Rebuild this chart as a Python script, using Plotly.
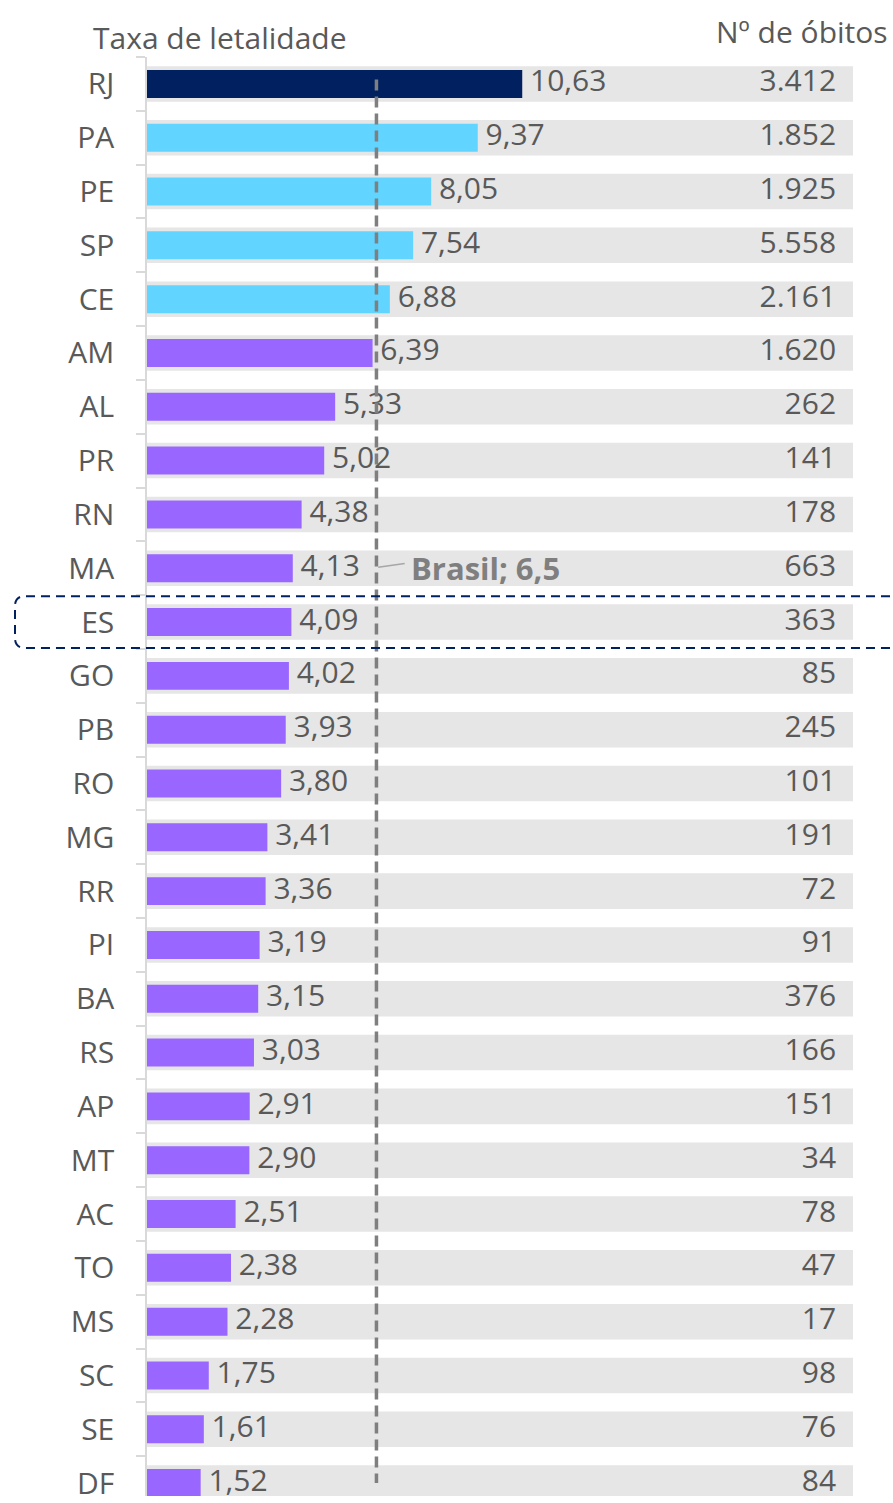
import plotly.graph_objects as go

estados = ["RJ", "PA", "PE", "SP", "CE", "AM", "AL", "PR", "RN", "MA", "ES", "GO", "PB", "RO",
           "MG", "RR", "PI", "BA", "RS", "AP", "MT", "AC", "TO", "MS", "SC", "SE", "DF"]
taxa = [10.63, 9.37, 8.05, 7.54, 6.88, 6.39, 5.33, 5.02, 4.38, 4.13, 4.09, 4.02, 3.93, 3.80,
        3.41, 3.36, 3.19, 3.15, 3.03, 2.91, 2.90, 2.51, 2.38, 2.28, 1.75, 1.61, 1.52]
obitos = [3412, 1852, 1925, 5558, 2161, 1620, 262, 141, 178, 663, 363, 85, 245, 101,
          191, 72, 91, 376, 166, 151, 34, 78, 47, 17, 98, 76, 84]
grupo = ["destaque"] + ["alto"] * 4 + ["demais"] * 22
brasil = 6.5
fundo_max = 20
estado_marcado = "ES"

cores = {"destaque": "#002060", "alto": "#61D5FF", "demais": "#9966FF"}
TXT = "#595959"
FONT = "Open Sans"
FS = 30

W, H = 893, 1503
ML, MR, MT, MB = 147, 40, 57, 0
PW, PH = W - ML - MR, H - MT - MB
n = len(estados)
yr = [26.24, -0.5]


def px_x(p):
    return (p - ML) / PW


def px_y(p):
    return 1 - (p - MT) / PH


def row_to_py(r):
    return MT + (r - yr[1]) / (yr[0] - yr[1]) * PH


def fmt_taxa(v):
    return f"{v:.2f}".replace(".", ",")


def fmt_int(v):
    return f"{v:,}".replace(",", ".")


fig = go.Figure()
fig.add_trace(go.Bar(y=estados, x=[fundo_max] * n, orientation="h", width=0.66,
                     marker=dict(color="#E6E6E6", line=dict(width=0)), hoverinfo="skip",
                     showlegend=False))
fig.add_trace(go.Bar(y=estados, x=taxa, orientation="h", width=0.52,
                     marker=dict(color=[cores[g] for g in grupo], line=dict(width=0)),
                     showlegend=False))
fig.add_trace(go.Scatter(y=estados, x=taxa, mode="text",
                         text=[" " + fmt_taxa(v) for v in taxa], textposition="middle right",
                         textfont=dict(family=FONT, size=FS, color=TXT), showlegend=False,
                         hoverinfo="skip"))
fig.add_trace(go.Scatter(y=estados, x=[19.52] * n, mode="text",
                         text=[fmt_int(v) for v in obitos], textposition="middle left",
                         textfont=dict(family=FONT, size=FS, color=TXT), showlegend=False,
                         hoverinfo="skip"))

# Brasil reference line
fig.add_shape(type="line", xref="x", yref="y", x0=brasil, x1=brasil, y0=-0.08, y1=n - 1,
              line=dict(color="#7F7F7F", width=3.5, dash="11px,6px"), layer="above")
ib = estados.index("MA")
fig.add_shape(type="line", xref="x", yref="y", x0=brasil + 0.05, x1=brasil + 0.8,
              y0=ib - 0.02, y1=ib - 0.09, line=dict(color="#A6A6A6", width=1.5))
fig.add_annotation(x=brasil + 0.93, y="MA", xref="x", yref="y", xanchor="left", yanchor="middle",
                   text="<b>Brasil; 6,5</b>", showarrow=False,
                   font=dict(family=FONT, size=31, color="#7F7F7F"))

# dashed highlight box around ES
ie = estados.index(estado_marcado)
yc = row_to_py(ie)
y0p, y1p = px_y(yc - 26), px_y(yc + 26)
x0p, x1p = px_x(15), px_x(905)
rx, ry = 10 / PW, 10 / PH
path = (f"M {x1p} {y0p} L {x0p + rx} {y0p} Q {x0p} {y0p} {x0p} {y0p - ry} "
        f"L {x0p} {y1p + ry} Q {x0p} {y1p} {x0p + rx} {y1p} L {x1p} {y1p}")
fig.add_shape(type="path", xref="paper", yref="paper", path=path,
              line=dict(color="#002060", width=2, dash="9px,6px"))

fig.add_annotation(x=px_x(91), y=px_y(37), xref="paper", yref="paper", xanchor="left",
                   yanchor="middle", text="Taxa de letalidade", showarrow=False,
                   font=dict(family=FONT, size=FS, color=TXT))
fig.add_annotation(x=px_x(890), y=px_y(31), xref="paper", yref="paper", xanchor="right",
                   yanchor="middle", text="Nº de óbitos", showarrow=False,
                   font=dict(family=FONT, size=FS, color=TXT))

fig.update_layout(
    width=W, height=H, margin=dict(l=ML, r=MR, t=MT, b=MB, pad=0),
    barmode="overlay", plot_bgcolor="white", paper_bgcolor="white",
    xaxis=dict(range=[0, fundo_max], visible=False),
    yaxis=dict(type="category", categoryorder="array", categoryarray=estados, range=yr,
               showgrid=False, showline=True, linecolor="#D9D9D9", linewidth=1.5,
               ticks="outside", tickson="boundaries", ticklen=9, tickcolor="#D9D9D9",
               tickwidth=1.5, ticklabelstandoff=25,
               tickfont=dict(family=FONT, size=FS, color=TXT), zeroline=False),
    font=dict(family=FONT),
)

post = ("var h=document.documentElement,b=document.body;"
        "h.style.margin='0';h.style.padding='0';b.style.margin='0';b.style.padding='0';"
        "h.style.height='1503px';b.style.height='1503px';"
        "h.style.overflow='hidden';b.style.overflow='hidden';")
fig.write_html("out.html", post_script=post, config={"displayModeBar": False})
